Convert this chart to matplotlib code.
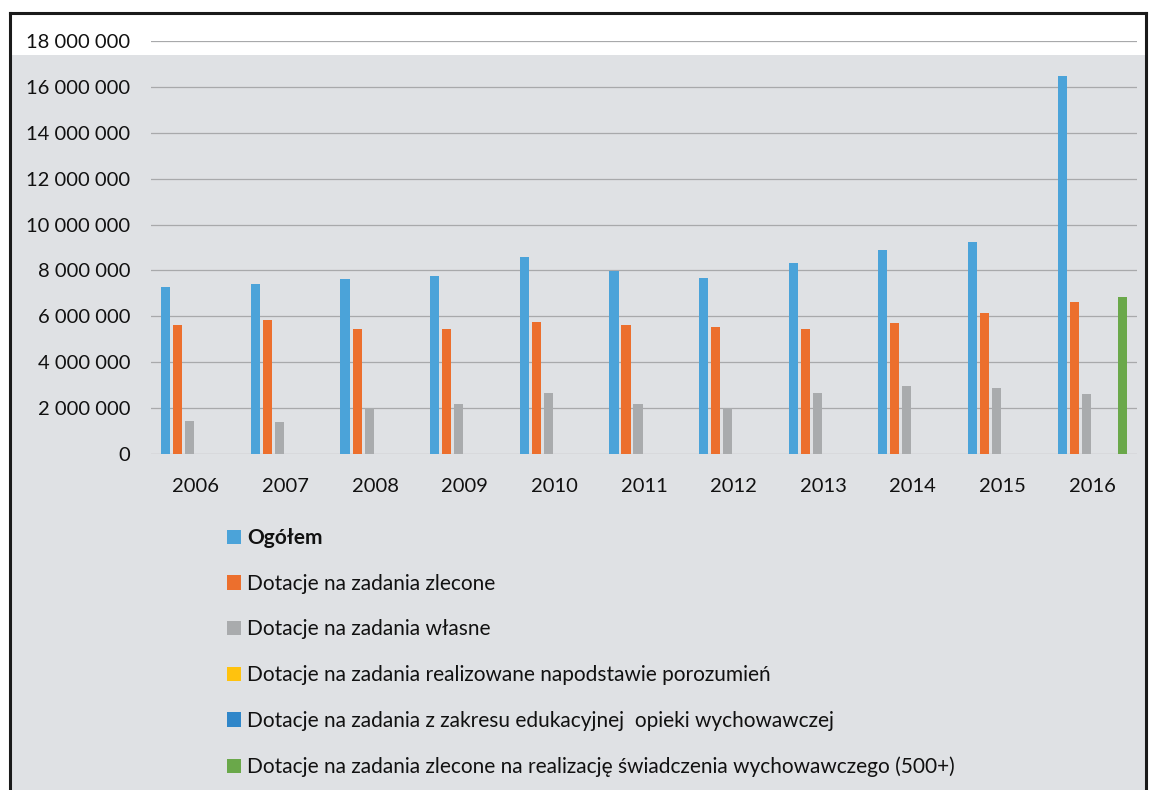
#!/usr/bin/env python3
"""Dotacje 2006-2016: grouped bar chart with a vertical legend below."""

import matplotlib

matplotlib.use("Agg")
import matplotlib.pyplot as plt
import numpy as np
from matplotlib.lines import Line2D
from matplotlib.patches import Patch, Rectangle
from matplotlib.ticker import FuncFormatter

years = ["2006", "2007", "2008", "2009", "2010", "2011", "2012", "2013", "2014", "2015", "2016"]

series_names = [
    "Ogółem",
    "Dotacje na zadania zlecone",
    "Dotacje na zadania własne",
    "Dotacje na zadania realizowane napodstawie porozumień",
    "Dotacje na zadania z zakresu edukacyjnej  opieki wychowawczej",
    "Dotacje na zadania zlecone na realizację świadczenia wychowawczego (500+)",
]

ogolem = [7260000, 7410000, 7630000, 7770000, 8600000, 7960000, 7660000, 8310000, 8900000, 9260000, 16480000]
zlecone = [5630000, 5850000, 5450000, 5450000, 5760000, 5620000, 5550000, 5450000, 5700000, 6140000, 6620000]
wlasne = [1440000, 1410000, 2020000, 2200000, 2680000, 2200000, 2000000, 2660000, 2960000, 2880000, 2620000]
porozumienia = [0, 0, 0, 0, 0, 0, 0, 0, 0, 0, 0]
edukacyjne = [0, 0, 0, 0, 0, 0, 0, 0, 0, 0, 0]
swiadczenie_500 = [0, 0, 0, 0, 0, 0, 0, 0, 0, 0, 6860000]

COLORS = ["#4ba3d9", "#ec6f2d", "#a9abad", "#ffc20e", "#2f86c9", "#6aa84a"]

plt.rcParams["font.family"] = ["Lato", "DejaVu Sans"]

fig = plt.figure(figsize=(11.49, 7.9), dpi=100, facecolor="white")

# scanned-page look: grey sheet with a white strip on top and a black frame
fig.patches.append(Rectangle((10 / 1149, 0), 1136 / 1149, 735 / 790, transform=fig.transFigure,
                             facecolor="#dfe1e4", edgecolor="none", zorder=-10))
for xs, ys in [((10, 1146), (13, 13)), ((10, 10), (13, 790)), ((1146, 1146), (13, 790))]:
    fig.lines.append(Line2D([x / 1149 for x in xs], [1 - y / 790 for y in ys],
                            transform=fig.transFigure, color="#1a1a1a", lw=2.2))

ax = fig.add_axes([151 / 1149, 1 - 454 / 790, (1137 - 151) / 1149, (454 - 41) / 790])
ax.set_facecolor("none")

data = [ogolem, zlecone, wlasne, porozumienia, edukacyjne, swiadczenie_500]
x = np.arange(len(years))
slot = 0.134
for i, (vals, color) in enumerate(zip(data, COLORS)):
    ax.bar(x + (i - 2.5) * slot, vals, width=0.102, color=color, zorder=3)

ax.set_xlim(-0.5, len(years) - 0.5)
ax.set_ylim(0, 18000000)
ax.set_yticks(np.arange(0, 18000001, 2000000))
ax.yaxis.set_major_formatter(FuncFormatter(lambda v, _: f"{int(v):,}".replace(",", " ")))
ax.set_xticks(x)
ax.set_xticklabels(years)
ax.tick_params(axis="both", length=0, labelsize=14.5, colors="#111111")
ax.tick_params(axis="y", pad=15)
ax.tick_params(axis="x", pad=17)
ax.grid(True, axis="y", color="#a8a9ab", lw=0.9, zorder=0)
for side in ax.spines.values():
    side.set_visible(False)

handles = [Patch(facecolor=c, edgecolor="none") for c in COLORS]
leg = fig.legend(handles, series_names, loc="upper left", bbox_to_anchor=(227 / 1149, 1 - 528 / 790),
                 frameon=False, fontsize=15, labelspacing=1.235, handlelength=0.68, handleheight=0.68,
                 handletextpad=0.3, borderpad=0, borderaxespad=0, labelcolor="#111111")
leg.get_texts()[0].set_fontweight("bold")

fig.savefig("out.png", dpi=100, facecolor="white")
plt.close(fig)
